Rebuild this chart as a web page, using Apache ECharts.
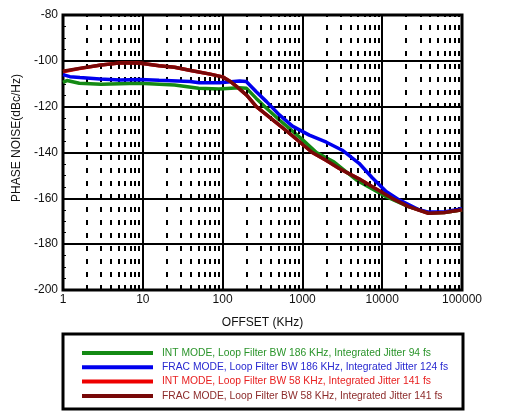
<!DOCTYPE html>
<html>
<head>
<meta charset="utf-8">
<script src="https://cdn.jsdelivr.net/npm/echarts@6/dist/echarts.min.js"></script>
<style>
html,body{margin:0;padding:0;background:#fff;}
#chart{width:509px;height:412px;}
</style>
</head>
<body>
<div id="chart"></div>
<script>
// ---- data ----
const seriesNames = [
  'INT MODE, Loop Filter BW 186 KHz, Integrated Jitter 94 fs',
  'FRAC MODE, Loop Filter BW 186 KHz, Integrated Jitter 124 fs',
  'INT MODE, Loop Filter BW 58 KHz, Integrated Jitter 141 fs',
  'FRAC MODE, Loop Filter BW 58 KHz, Integrated Jitter 141 fs'
];

const intWideFreq = [1, 1.12, 1.6, 3, 9, 25, 50, 90, 160, 200, 264, 355, 515, 686, 1000, 1500, 2500, 4750, 11200, 21500, 38000, 60000, 100000];
const intWideNoise = [-109.4, -108.6, -109.8, -110.2, -109.8, -110.5, -112, -112.3, -111.7, -112, -116.4, -120.7, -125.8, -129.5, -134.4, -140, -144.2, -152, -159.3, -163.6, -166.3, -166.2, -165];

const fracWideFreq = [1, 1.22, 1.63, 2.9, 5.2, 9.2, 16, 39, 51, 91, 163, 198, 264, 355, 515, 750, 1220, 2000, 3160, 5130, 7500, 11200, 16300, 28900, 38000, 60000, 100000];
const fracWideNoise = [-106, -106.9, -107.3, -107.9, -108.4, -108.1, -108.5, -109, -109.6, -109.6, -108.8, -109, -113.5, -117.8, -123.6, -128.5, -132.4, -135.5, -139, -144.7, -151, -157, -160.7, -165, -166, -166, -164.5];

const intNarrowFreq = [1, 1.6, 3, 5, 7.5, 10, 16, 25, 40, 70, 100, 125, 160, 200, 265, 400, 686, 1330, 2000, 2900, 5100, 8000, 13300, 21500, 38000, 60000, 100000];
const intNarrowNoise = [-104.8, -103.4, -101.8, -101, -100.8, -101.2, -102.1, -102.8, -104.2, -105.8, -107, -109, -112, -115, -120, -125, -131.6, -140, -143.5, -147, -151.5, -155.5, -160, -163.6, -166.5, -166.2, -165];

const fracNarrowFreq = [1, 1.6, 3, 5, 7.5, 10, 16, 25, 40, 70, 100, 125, 160, 200, 265, 400, 686, 1330, 2000, 2900, 5100, 8000, 13300, 21500, 38000, 60000, 100000];
const fracNarrowNoise = [-104.5, -103.3, -101.8, -101, -100.8, -101.2, -102.1, -102.8, -104.2, -105.8, -107, -109, -112, -115, -120, -125, -131.6, -140, -143.5, -147, -151.5, -155.5, -160, -163.6, -166.5, -166.2, -165];

const xTickLabels = ['1', '10', '100', '1000', '10000', '100000'];
const yTickLabels = ['-200', '-180', '-160', '-140', '-120', '-100', '-80'];
const decades = [1, 10, 100, 1000, 10000];
const minorMultipliers = [2, 3, 4, 5, 6, 7, 8, 9];

// ---- build ----
function pairs(xs, ys) { return xs.map((x, i) => [x, ys[i]]); }
const minorLines = [];
decades.forEach(d => minorMultipliers.forEach(m => minorLines.push({ xAxis: d * m })));

const colors = ['#148a14', '#0000ee', '#ee0000', '#780808'];
const textColors = ['#2a942a', '#2828d0', '#e82020', '#8c2a2a'];
const FONT = '"Liberation Sans", Arial, sans-serif';

const chart = echarts.init(document.getElementById('chart'), null, { renderer: 'canvas' });
chart.setOption({
  animation: false,
  backgroundColor: '#fff',
  grid: { left: 63, right: 47, top: 15, bottom: 122, show: true, borderColor: '#000', borderWidth: 3, backgroundColor: 'transparent' },
  xAxis: {
    type: 'log', logBase: 10, min: 1, max: 100000,
    name: 'OFFSET (KHz)', nameLocation: 'middle', nameGap: 27,
    nameTextStyle: { fontFamily: FONT, fontSize: 12, color: '#111' },
    axisLine: { show: false },
    axisTick: { show: false },
    axisLabel: { fontFamily: FONT, fontSize: 12, color: '#111', margin: 4,
      formatter: v => { const i = Math.round(Math.log10(v)); return xTickLabels[i] !== undefined ? xTickLabels[i] : ''; } },
    splitLine: { show: true, lineStyle: { color: '#000', width: 2 } }
  },
  yAxis: {
    type: 'value', min: -200, max: -80, interval: 20,
    axisLine: { show: false },
    axisTick: { show: false },
    minorTick: { show: true, splitNumber: 4, length: -3, lineStyle: { color: '#000', width: 1 } },
    axisLabel: { fontFamily: FONT, fontSize: 12, color: '#111', margin: 5,
      formatter: v => { const i = Math.round((v + 200) / 20); return yTickLabels[i] !== undefined ? yTickLabels[i] : ''; } },
    splitLine: { show: true, lineStyle: { color: '#000', width: 2 } }
  },
  legend: {
    orient: 'vertical', left: 82, top: 346, height: 62, padding: 0,
    icon: 'rect', itemWidth: 71, itemHeight: 4, itemGap: 0.3,
    textStyle: { fontFamily: FONT, fontSize: 10.3, lineHeight: 14, padding: [0, 0, 0, 4] },
    data: seriesNames.map((n, i) => ({ name: n, textStyle: { color: textColors[i] } }))
  },
  graphic: [
    { type: 'rect', shape: { x: 63, y: 334, width: 400, height: 75 }, style: { fill: 'none', stroke: '#000', lineWidth: 3 }, z: 10 },
    { type: 'text', x: 17, y: 138, rotation: Math.PI / 2,
      style: { text: 'PHASE NOISE(dBc/Hz)', font: '12px ' + FONT, fill: '#111', textAlign: 'center', textVerticalAlign: 'middle' } }
  ],
  series: [
    { name: 'minor', type: 'line', data: [], silent: true, z: 1,
      markLine: { silent: true, symbol: ['none', 'none'], label: { show: false },
        lineStyle: { color: '#000', width: 2, type: [5, 8] }, data: minorLines } },
    { name: seriesNames[2], type: 'line', data: pairs(intNarrowFreq, intNarrowNoise), color: colors[2], showSymbol: false, lineStyle: { width: 3.5, color: colors[2] }, z: 3 },
    { name: seriesNames[0], type: 'line', data: pairs(intWideFreq, intWideNoise), color: colors[0], showSymbol: false, lineStyle: { width: 3.5, color: colors[0] }, z: 4 },
    { name: seriesNames[1], type: 'line', data: pairs(fracWideFreq, fracWideNoise), color: colors[1], showSymbol: false, lineStyle: { width: 3.5, color: colors[1] }, z: 5 },
    { name: seriesNames[3], type: 'line', data: pairs(fracNarrowFreq, fracNarrowNoise), color: colors[3], showSymbol: false, lineStyle: { width: 3.5, color: colors[3] }, z: 6 }
  ]
});
</script>
</body>
</html>
